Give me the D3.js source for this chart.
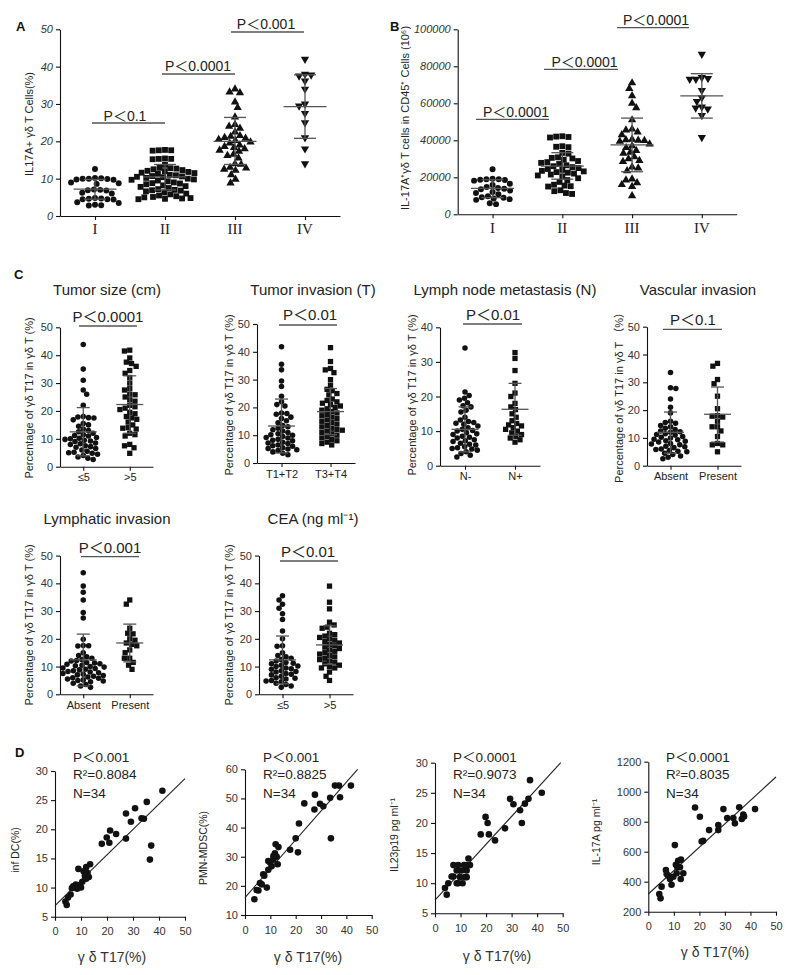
<!DOCTYPE html>
<html><head><meta charset="utf-8">
<script src="https://cdn.jsdelivr.net/npm/d3@7"></script>
<style>body{margin:0;background:#fff}svg{display:block}</style>
</head><body>
<script>
// ---------------- DATA ----------------
const stageCats = ["I","II","III","IV"];
// Panel A: IL17A+ γδ T cells (%)
const aI   = [12.6,10.2,10.1,10.0,10.0,9.9,9.8,9.7,9.0,8.8,8.6,7.1,7.0,6.9,6.8,6.2,6.0,4.8,4.7,4.6,4.5,4.5,4.4,3.7,3.5,3.0,2.9,2.8];
const aII  = [17.7,17.6,17.6,17.5,15.4,15.3,15.3,15.2,13.7,12.9,12.8,12.7,12.5,12.3,12.1,12.0,11.8,11.6,11.5,11.3,11.0,10.9,10.7,10.6,10.5,10.4,10.2,10.0,9.8,9.7,9.5,9.3,9.0,8.8,8.7,8.5,8.2,8.0,7.8,7.5,7.2,7.0,6.9,6.8,6.6,6.3,6.0,5.8,5.5,5.3,5.1,5.0,4.8,4.7,4.6,4.5];
const aIII = [34.0,33.2,33.0,30.5,29.0,26.5,24.5,24.0,23.5,22.5,21.5,21.3,21.0,20.8,20.5,20.2,19.8,19.5,19.0,18.6,18.3,18.0,17.6,17.3,16.5,16.2,15.5,14.0,13.8,13.0,12.8,12.5,12.2,11.0,9.8,8.8];
const aIV  = [42.0,38.0,37.8,37.5,36.2,34.0,30.0,29.5,27.5,25.0,21.0,18.0,14.0];
const aStats = [[7.2,4.5,9.8],[10.5,7.0,13.8],[20.0,13.8,26.4],[29.3,20.8,37.8]]; // mean, low, high
const aTicks = [0,10,20,30,40,50];
// Panel B: IL-17A+ γδ T cells in CD45+ cells
const bI   = [24300,19200,19000,18900,18700,18500,18200,16500,15800,14800,14200,13800,13500,12800,12000,11500,10800,9800,9200,9000,8600,8200,7800,6000,5500];
const bII  = [42200,42000,41800,41500,36800,36500,36300,33200,32800,30800,30500,30200,29500,28800,28200,27800,27200,26500,26000,25500,25000,24500,24000,23500,23200,22800,22500,22000,21500,21000,20500,19500,18500,17500,16000,15500,15200,15000,13000,12500,11500,11000];
const bIII = [71000,68000,64000,60000,57500,51000,46000,45500,44500,43000,40500,40200,40000,39800,39500,38000,37000,36000,34500,33500,33000,31000,30000,29000,28500,25500,25000,23500,19000,18500,17000,16000,15000,10000];
const bIV  = [86500,74000,73500,73000,73000,67000,63000,61000,58000,57500,57000,53500,41500];
const bStats = [[14000,9000,18700],[26000,19000,33300],[37500,23000,52000],[64000,52000,76000]];
const bTicks = [0,20000,40000,60000,80000,100000];
// Panel C
const cTicks50 = [0,10,20,30,40,50];
const cTicks40 = [0,10,20,30,40];
const sizeCats = ["≤5",">5"];
const sizeLe5 = [43.8,35.0,31.0,27.5,26.0,22.0,18.0,17.8,17.6,17.5,16.8,15.5,15.0,14.5,13.5,13.0,12.5,12.0,11.5,11.2,11.0,10.5,10.2,10.0,9.8,9.5,9.2,9.0,8.5,8.2,8.0,7.5,7.2,7.0,6.5,6.0,5.5,5.2,5.0,4.8,4.5,4.0,3.5,3.0,2.6];
const sizeGt5 = [41.8,41.5,39.0,37.5,37.0,36.0,34.5,33.5,32.0,30.0,28.0,27.5,26.0,25.8,25.0,24.0,23.5,22.0,21.5,21.0,20.5,19.5,19.0,18.0,17.5,17.0,16.0,15.0,14.0,13.8,13.5,12.0,11.5,11.0,8.0,7.5,6.8,4.8];
const sizeStats = [[12.5,3.9,21.2],[22.3,12.0,32.6]];
const invCats = ["T1+T2","T3+T4"];
const invT12 = [41.8,35.5,33.5,29.5,27.5,24.0,22.0,21.0,20.5,18.0,17.8,17.5,16.5,16.0,15.2,14.5,13.5,13.0,12.5,12.0,11.5,11.0,10.5,10.2,10.0,9.5,9.2,9.0,8.5,8.2,8.0,7.5,7.2,7.0,6.5,6.2,6.0,5.5,5.2,5.0,4.8,4.5,4.0,3.5,3.0];
const invT34 = [41.5,36.5,34.0,33.5,32.5,30.0,28.0,26.5,26.0,25.0,24.5,23.0,22.5,22.0,21.5,21.0,20.5,20.0,19.5,19.0,18.5,18.0,17.5,17.0,16.5,16.0,15.5,15.0,14.5,14.0,13.5,13.0,12.5,12.0,11.8,11.5,11.0,10.5,10.0,9.5,9.0,8.5,8.0,7.5,7.0,6.5];
const invStats = [[13.3,3.6,23.0],[18.5,10.2,26.8]];
const lnCats = ["N-","N+"];
const nNeg = [34.0,21.3,20.3,19.5,19.0,18.2,17.3,17.0,16.0,15.5,14.0,13.2,12.8,12.5,12.3,12.0,11.5,11.0,10.5,10.2,10.0,9.5,9.2,9.0,8.5,8.2,8.0,7.5,7.2,7.0,6.5,6.2,6.0,5.5,5.2,5.0,4.8,4.5,4.0,3.5,3.0,2.5];
const nPos = [32.7,31.0,27.5,23.8,21.0,20.0,18.0,17.0,16.2,15.0,14.0,13.0,12.2,11.8,11.5,11.0,10.5,10.0,9.5,9.0,8.5,8.0,7.5,6.8];
const lnStats = [[10.5,4.0,17.0],[16.3,8.8,23.8]];
const apCats = ["Absent","Present"];
const vAbs = [33.5,28.0,27.8,24.0,21.0,19.0,16.0,15.5,15.3,14.5,14.0,13.5,13.0,12.5,12.2,12.0,11.5,11.2,11.0,10.5,10.2,10.0,9.5,9.3,9.0,8.8,8.5,8.0,7.8,7.5,7.0,6.8,6.5,6.0,5.8,5.5,5.2,5.0,4.5,4.0,3.5,3.0,2.5];
const vPres = [36.8,35.8,31.0,29.5,25.0,20.5,18.0,17.8,17.5,16.0,14.0,14.0,12.5,10.5,8.0,7.5,7.5,5.0];
const vStats = [[12.0,4.5,19.3],[18.5,8.5,28.3]];
const lAbs = [43.8,39.0,36.8,34.0,29.5,27.5,19.8,17.6,17.5,17.4,15.0,14.0,13.5,13.0,12.5,12.2,12.0,11.5,11.3,11.0,10.8,10.5,10.3,10.0,9.8,9.5,9.3,9.0,8.8,8.5,8.2,8.0,7.8,7.5,7.2,7.0,6.8,6.5,6.2,6.0,5.8,5.5,5.2,5.0,4.8,4.5,4.0,3.5,3.0,2.5];
const lPres = [34.0,32.5,23.8,22.0,21.8,20.0,19.5,18.5,18.0,17.5,16.0,15.0,13.0,13.0,11.5,10.5,9.0];
const lStats = [[12.4,3.0,21.7],[18.5,11.7,25.3]];
const ceaLe5 = [35.5,34.0,32.5,31.0,29.0,27.0,22.8,20.0,17.5,17.3,15.0,14.0,13.5,13.0,12.5,12.0,11.5,11.2,11.0,10.5,10.2,10.0,9.5,9.2,9.0,8.5,8.2,8.0,7.5,7.2,7.0,6.5,6.0,5.8,5.5,5.0,4.8,4.5,4.0,3.5,3.0,2.5];
const ceaGt5 = [39.0,33.2,30.8,26.0,25.0,24.2,23.8,22.0,21.5,21.0,20.5,20.0,19.5,19.0,18.5,18.0,17.5,17.0,16.5,16.0,15.5,15.0,14.5,14.0,13.5,13.0,12.5,12.0,11.5,11.0,10.5,10.0,9.5,9.5,8.0,6.5,5.0];
const ceaStats = [[12.4,3.8,21.0],[17.8,10.8,24.7]];
// Panel D: γδ T17 (%) vs cytokines / cells
const dX1 = [41.3,35.3,30.8,27.3,29.2,33.3,34.2,21.2,19.9,23.5,18.0,20.9,27.3,36.5,37.0,13.5,12.0,9.0,11.0,12.5,11.5,13.0,10.5,12.0,9.5,8.0,7.0,6.5,8.5,10.0,6.0,5.0,4.0,4.5];
const dY1 = [26.6,24.7,23.6,22.7,21.3,21.9,21.8,19.8,18.6,19.2,17.5,17.7,18.4,14.8,17.2,14.0,13.5,13.2,12.8,12.5,12.0,11.8,11.0,11.5,10.3,10.5,10.2,9.9,9.8,10.0,8.8,8.3,7.6,7.0];
const dX2 = [41.8,35.5,37.1,37.5,33.6,27.6,27.4,23.4,29.6,30.9,33.9,21.3,20.0,20.9,17.8,12.1,13.2,12.9,11.8,11.2,11.2,9.9,9.2,10.5,8.6,7.2,7.6,5.9,6.6,4.6,3.7,5.3,9.2,12.5];
const dY2 = [54.4,54.4,54.4,50.4,50.2,51.3,46.2,48.3,48.2,47.3,36.3,41.4,36.3,31.5,32.4,34.3,33.3,27.4,31.2,30.2,29.0,28.0,25.5,26.7,19.4,24.0,23.5,21.0,20.5,18.6,15.4,18.4,28.5,30.0];
const dX3 = [41.8,37.2,36.6,35.2,33.3,34.0,30.7,29.4,27.4,23.5,21.1,20.6,19.8,17.9,13.1,13.7,12.4,12.4,11.4,10.4,10.8,9.1,8.5,7.2,6.5,7.2,9.1,9.8,5.2,3.9,4.6,11.7,12.4,8.5];
const dY3 = [25.0,27.1,24.0,23.2,22.1,20.0,23.1,24.0,19.1,17.1,18.1,20.0,21.0,18.1,14.1,13.0,12.1,11.0,13.0,12.1,10.0,13.0,12.1,13.0,11.1,11.1,10.0,11.0,10.0,9.2,8.1,11.0,13.0,10.0];
const dX4 = [18.3,20.2,21.5,20.9,23.8,27.4,27.4,29.4,30.9,33.3,33.9,35.6,36.6,37.2,41.8,10.4,13.7,12.7,11.1,11.7,10.8,12.8,12.4,11.4,9.8,9.1,7.8,6.9,7.2,5.2,4.3,4.8,8.5,37.5];
const dY4 = [895,833,673,668,744,744,778,884,824,824,789,896,818,847,884,644,456,418,456,540,513,547,496,496,433,380,440,478,451,367,318,289,418,835];
const dFits = [[6.9,0.436],[16.0,0.99],[7.2,0.463],[318,15.6]]; // intercept, slope
const dStatsText = [["P＜0.001","R²=0.8084","N=34"],["P＜0.001","R²=0.8825","N=34"],["P＜0.0001","R²=0.9073","N=34"],["P＜0.0001","R²=0.8035","N=34"]];
const dXTicks = [0,10,20,30,40,50];

// ---------------- DRAWING ----------------
const svg = d3.select("body").append("svg").attr("width",794).attr("height",975);
svg.append("rect").attr("width",794).attr("height",975).attr("fill","#fff");
const SANS = "'Liberation Sans', Arial, 'Noto Sans CJK SC', sans-serif";
const SERIF = "'Liberation Serif', 'Times New Roman', serif";
const INK = "#111", BAR = "#555";

function label(txt, x, y, opt={}) {
  return svg.append("text").attr("x",x).attr("y",y).text(txt)
    .attr("font-family", opt.family||SANS).attr("font-size", opt.size||14)
    .attr("font-weight", opt.weight||"normal").attr("font-style", opt.style||"normal")
    .attr("fill", opt.fill||"#222").attr("text-anchor", opt.anchor||"start");
}
function vlabel(txt, x, yc, size) {
  return svg.append("text").attr("transform",`translate(${x},${yc}) rotate(-90)`).text(txt)
    .attr("font-family",SANS).attr("font-size",size||11).attr("fill","#222").attr("text-anchor","middle");
}

function swarm(vals, y, cx, d) {
  const pts = vals.map(v => ({v, py:y(v)})).sort((a,b)=>a.py-b.py);
  const placed = [];
  let flip = 1;
  for (const p of pts) {
    const near = placed.filter(q => Math.abs(q.py-p.py) < d);
    const cands = [0];
    for (const q of near) { const dx = Math.sqrt(d*d-(q.py-p.py)**2); cands.push(q.dx+dx, q.dx-dx); }
    cands.sort((a,b)=>Math.abs(a)-Math.abs(b) || (flip*(b-a)));
    let best = 0;
    for (const c of cands) {
      if (near.every(q => (q.dx-c)**2 + (q.py-p.py)**2 >= d*d-0.01)) { best = c; break; }
    }
    flip = -flip;
    p.dx = best; placed.push(p);
  }
  return pts.map(p => ({px:cx+p.dx, py:p.py}));
}

const symType = {circle:d3.symbolCircle, square:d3.symbolSquare, tri:d3.symbolTriangle, triDown:d3.symbolTriangle};

function dotPlot(o) {
  const g = svg.append("g");
  const y = d3.scaleLinear().domain(o.yDomain).range([o.yBottom, o.yTop]);
  const x = d3.scalePoint().domain(o.cats).range([o.x0, o.x1]).padding(0.5);
  const ya = g.append("g").attr("transform",`translate(${o.x0},0)`)
    .call(d3.axisLeft(y).tickValues(o.yTicks).tickSize(4).tickSizeOuter(0).tickFormat(d3.format("d")));
  ya.selectAll("text").attr("font-family",SANS).attr("font-size",o.tickSize||11)
    .attr("font-style",o.italic?"italic":"normal").attr("fill","#333");
  const xa = g.append("g").attr("transform",`translate(0,${o.yBottom})`)
    .call(d3.axisBottom(x).tickSize(4).tickSizeOuter(0).tickFormat(o.serifCats?"":null));
  xa.selectAll("text").attr("font-family",SANS).attr("font-size",11).attr("fill","#222");
  g.selectAll(".domain, .tick line").attr("stroke",INK).attr("stroke-width",1.1);
  if (o.serifCats) {
    o.cats.forEach(c => label(c, x(c), o.catY, {family:SERIF, size:15, anchor:"middle", fill:"#222"}));
  }
  o.groups.forEach((vals,i) => {
    const cx = x(o.cats[i]);
    const pts = swarm(vals, y, cx, o.d);
    const shape = o.shapes[i];
    g.append("g").selectAll("path").data(pts).join("path")
      .attr("d", d3.symbol().type(symType[shape]).size(o.symSize[shape]))
      .attr("transform", p => `translate(${p.px},${p.py})${shape==="triDown"?" rotate(180)":""}`)
      .attr("fill", INK);
    const [m, lo, hi] = o.stats[i];
    const sg = g.append("g").attr("stroke",BAR).attr("stroke-width",1.3);
    sg.append("line").attr("x1",cx-o.meanHalf).attr("x2",cx+o.meanHalf).attr("y1",y(m)).attr("y2",y(m));
    sg.append("line").attr("x1",cx).attr("x2",cx).attr("y1",y(lo)).attr("y2",y(hi));
    [lo,hi].forEach(v => sg.append("line").attr("x1",cx-o.capHalf).attr("x2",cx+o.capHalf).attr("y1",y(v)).attr("y2",y(v)));
  });
  (o.pvals||[]).forEach(p => {
    svg.append("line").attr("x1",p.x1).attr("x2",p.x2).attr("y1",p.ly).attr("y2",p.ly).attr("stroke",BAR).attr("stroke-width",1.3);
    label(p.t, p.tx, p.ty, {size:p.size||14, anchor:"middle", fill:"#222"});
  });
  if (o.title) label(o.title, o.titleX, o.titleY, {size:15, anchor:"middle", fill:"#222"});
  if (o.ytitle) vlabel(o.ytitle, o.ytX, o.ytY, o.ytSize||11);
}

// Panel letters
label("A", 16, 31, {weight:"bold", size:13, fill:"#111"});
label("B", 390, 31, {weight:"bold", size:13, fill:"#111"});
label("C", 14, 279, {weight:"bold", size:13, fill:"#111"});
label("D", 15, 757, {weight:"bold", size:13, fill:"#111"});

const bigSyms = {circle:28, square:34, tri:30, triDown:30};
dotPlot({x0:60, x1:340, yTop:29.3, yBottom:216, yDomain:[0,50], yTicks:aTicks, italic:true,
  cats:stageCats, serifCats:true, catY:234, groups:[aI,aII,aIII,aIV], shapes:["circle","square","tri","triDown"],
  symSize:bigSyms, d:6.2, stats:aStats, meanHalf:21.5, capHalf:11,
  pvals:[{t:"P＜0.1",tx:125,ty:120.5,x1:92,x2:165,ly:123},
         {t:"P＜0.0001",tx:198,ty:71,x1:162,x2:235,ly:74},
         {t:"P＜0.001",tx:266,ty:28.5,x1:231,x2:304,ly:32}],
  ytitle:"IL17A+ γδ T Cells(%)", ytX:33, ytY:124});

dotPlot({x0:457.7, x1:736.7, yTop:29.3, yBottom:214.3, yDomain:[0,100000], yTicks:bTicks, italic:true,
  cats:stageCats, serifCats:true, catY:233, groups:[bI,bII,bIII,bIV], shapes:["circle","square","tri","triDown"],
  symSize:bigSyms, d:6.2, stats:bStats, meanHalf:21.5, capHalf:11,
  pvals:[{t:"P＜0.0001",tx:516,ty:117,x1:476,x2:549,ly:119.3},
         {t:"P＜0.0001",tx:584.5,ty:67,x1:544,x2:618,ly:69.3},
         {t:"P＜0.0001",tx:656,ty:25,x1:617,x2:689,ly:27.7}],
  ytitle:"IL-17A⁺γδ T cells in CD45⁺ Cells (10⁶)", ytX:409, ytY:118});

const cSyms = {circle:24, square:28};
const cyt = "Percentage of γδ T17 in γδ T (%)";
dotPlot({x0:60, x1:153, yTop:327.3, yBottom:466.7, yDomain:[0,50], yTicks:cTicks50, cats:sizeCats,
  groups:[sizeLe5,sizeGt5], shapes:["circle","square"], symSize:cSyms, d:5.4, stats:sizeStats, meanHalf:13.5, capHalf:6.5,
  pvals:[{t:"P＜0.0001",tx:108,ty:322,x1:79,x2:137,ly:326,size:15}],
  title:"Tumor size (cm)", titleX:107, titleY:295, ytitle:cyt, ytX:33, ytY:398});
dotPlot({x0:257, x1:355, yTop:324, yBottom:463, yDomain:[0,50], yTicks:cTicks50, cats:invCats,
  groups:[invT12,invT34], shapes:["circle","square"], symSize:cSyms, d:5.4, stats:invStats, meanHalf:13.5, capHalf:6.5,
  pvals:[{t:"P＜0.01",tx:310,ty:320,x1:279,x2:337,ly:325,size:15}],
  title:"Tumor invasion (T)", titleX:313, titleY:295, ytitle:cyt, ytX:233, ytY:395});
dotPlot({x0:440, x1:540, yTop:327.3, yBottom:465.7, yDomain:[0,40], yTicks:cTicks40, cats:lnCats,
  groups:[nNeg,nPos], shapes:["circle","square"], symSize:cSyms, d:5.4, stats:lnStats, meanHalf:13.5, capHalf:6.5,
  pvals:[{t:"P＜0.01",tx:493,ty:320,x1:463,x2:522,ly:324,size:15}],
  title:"Lymph node metastasis  (N)", titleX:505, titleY:295, ytitle:cyt, ytX:416, ytY:395});
dotPlot({x0:647, x1:741, yTop:326.7, yBottom:465.7, yDomain:[0,50], yTicks:cTicks50, cats:apCats,
  groups:[vAbs,vPres], shapes:["circle","square"], symSize:cSyms, d:5.4, stats:vStats, meanHalf:13.5, capHalf:6.5,
  pvals:[{t:"P＜0.1",tx:693,ty:325,x1:663,x2:722,ly:329.3,size:15}],
  title:"Vascular invasion", titleX:698, titleY:295, ytitle:"Percentage of γδ T17 in γδ T （%）", ytX:623, ytY:395});
dotPlot({x0:60, x1:153, yTop:555.6, yBottom:694.3, yDomain:[0,50], yTicks:cTicks50, cats:apCats,
  groups:[lAbs,lPres], shapes:["circle","square"], symSize:cSyms, d:5.4, stats:lStats, meanHalf:13.5, capHalf:6.5,
  pvals:[{t:"P＜0.001",tx:110,ty:553,x1:81,x2:139,ly:556.7,size:15}],
  title:"Lymphatic invasion", titleX:107, titleY:524, ytitle:cyt, ytX:33, ytY:625});
dotPlot({x0:259, x1:353, yTop:555.6, yBottom:694.3, yDomain:[0,50], yTicks:cTicks50, cats:sizeCats,
  groups:[ceaLe5,ceaGt5], shapes:["circle","square"], symSize:cSyms, d:5.4, stats:ceaStats, meanHalf:13.5, capHalf:6.5,
  pvals:[{t:"P＜0.01",tx:308,ty:557,x1:280,x2:338,ly:561,size:15}],
  title:"CEA (ng ml⁻¹)", titleX:313, titleY:524, ytitle:cyt, ytX:233, ytY:625});

// Panel D scatter plots
function scatter(o) {
  const g = svg.append("g");
  const x = d3.scaleLinear().domain([0,50]).range([o.x0, o.x1]);
  const y = d3.scaleLinear().domain(o.yDomain).range([o.yBottom, o.yTop]);
  g.append("g").attr("transform",`translate(0,${o.yBottom})`)
    .call(d3.axisBottom(x).tickValues(dXTicks).tickSize(4).tickSizeOuter(0).tickPadding(7).tickFormat(d3.format("d")));
  g.append("g").attr("transform",`translate(${o.x0},0)`)
    .call(d3.axisLeft(y).tickValues(o.yTicks).tickSize(4).tickSizeOuter(0).tickPadding(3).tickFormat(d3.format("d")));
  g.selectAll(".domain, .tick line").attr("stroke",INK).attr("stroke-width",1.1);
  g.selectAll(".tick text").attr("font-family",SANS).attr("font-size",11).attr("fill","#333");
  const [a,b] = o.fit;
  const xEnd = Math.min(50, (o.yDomain[1]-a)/b);
  g.append("line").attr("x1",x(0)).attr("y1",y(a)).attr("x2",x(xEnd)).attr("y2",y(a+b*xEnd))
    .attr("stroke","#222").attr("stroke-width",1.1);
  g.selectAll("circle.pt").data(o.xs.map((v,i)=>[v,o.ys[i]])).join("circle")
    .attr("cx",d=>x(d[0])).attr("cy",d=>y(d[1])).attr("r",3.3).attr("fill",INK);
  o.texts.forEach((t,i)=> label(t, o.tx, [762,779,798][i], {size:13.5, fill:"#222"}));
  label("γ δ T17(%)", o.xtX, o.xtY, {size:14, anchor:"middle", fill:"#333"});
  vlabel(o.ytitle, o.ytX, o.ytY, 10.5);
}
scatter({x0:55, x1:185, yTop:771, yBottom:916.7, yDomain:[5,30], yTicks:[5,10,15,20,25,30],
  xs:dX1, ys:dY1, fit:dFits[0], texts:dStatsText[0], tx:73, xtX:112, xtY:962, ytitle:"inf DC(%)", ytX:19, ytY:850});
scatter({x0:245, x1:371.7, yTop:769.3, yBottom:915, yDomain:[10,60], yTicks:[10,20,30,40,50,60],
  xs:dX2, ys:dY2, fit:dFits[1], texts:dStatsText[1], tx:263, xtX:308, xtY:962, ytitle:"PMN-MDSC(%)", ytX:207, ytY:848});
scatter({x0:435, x1:562.7, yTop:762.7, yBottom:913.3, yDomain:[5,30], yTicks:[5,10,15,20,25,30],
  xs:dX3, ys:dY3, fit:dFits[2], texts:dStatsText[2], tx:453, xtX:497, xtY:961, ytitle:"IL23p19 pg ml⁻¹", ytX:398, ytY:835});
scatter({x0:648.3, x1:776, yTop:761.7, yBottom:911.7, yDomain:[200,1200], yTicks:[200,400,600,800,1000,1200],
  xs:dX4, ys:dY4, fit:dFits[3], texts:dStatsText[3], tx:666, xtX:715, xtY:957, ytitle:"IL-17A pg ml⁻¹", ytX:600, ytY:832});
</script>
</body></html>
